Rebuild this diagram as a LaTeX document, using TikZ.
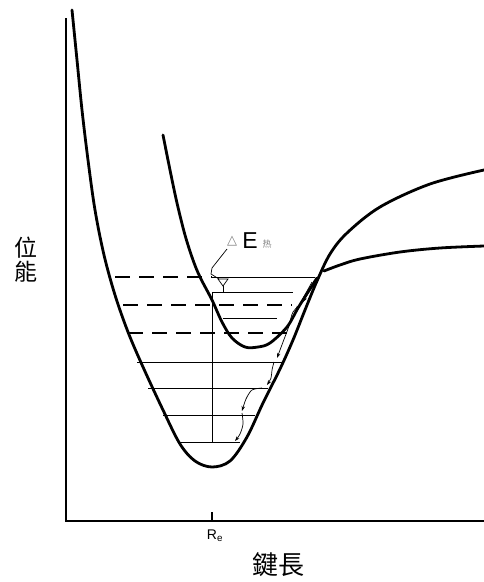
\documentclass[tikz,border=0pt]{standalone}
\usepackage{fontspec}
\newfontfamily\cjk{Noto Sans CJK TC}
\newfontfamily\lsans{Liberation Sans}
\newfontfamily\dejavu{DejaVu Sans}
\usetikzlibrary{arrows.meta}
\begin{document}
\begin{tikzpicture}[x=1pt,y=-1pt,
  curve/.style={line width=2.8pt,line cap=round,line join=round},
  axis/.style={line width=1.3pt},
  level/.style={line width=1pt},
  dlevel/.style={line width=1.1pt,dash pattern=on 15pt off 9pt},
  hop/.style={line width=0.7pt,-{Stealth[length=5pt,width=3.5pt]}},
  lbl/.style={inner sep=0pt}]
\useasboundingbox (0,0) rectangle (484,582);
% axes
\coordinate (O) at (66,521);
\coordinate (Ytop) at (66,18);
\coordinate (Xend) at (484,521);
\coordinate (tk) at (212,521);
\coordinate (tktop) at (212,512);
\draw[axis] (Ytop) -- (O) -- (Xend);
\draw[axis] (tk) -- (tktop);
\node[lbl] (re) at (215,536) {\lsans\fontsize{14}{14}\selectfont R\textsubscript{e}};
\node[lbl] (xl) at (278,565) {\cjk\fontsize{26}{26}\selectfont 鍵長};
\node[lbl,align=center,font=\cjk\fontsize{23}{24}\selectfont] (yl) at (26,260) {位\\能};
% ground state curve
\draw[curve] plot[smooth,tension=0.55] coordinates {(72,10) (77,60) (82,110) (88,160) (95,210) (104,255) (115,295) (128,332) (143,367) (163,410) (180,444) (195,461) (212,467) (230,461) (247,437) (263,403) (280,369) (293,340) (305,310) (317,281) (330,254) (347,233) (380,207) (430,184) (484,170)};
% excited curve
\draw[curve] plot[smooth,tension=0.55] coordinates {(163,135) (170,170) (177,203) (185,235) (193,260) (200,277) (212,300) (222,322) (232,338) (245,347) (258,347) (270,343) (287,327) (298,308) (308,292) (317,278)};
\draw[curve] plot[smooth,tension=0.55] coordinates {(324,271) (340,265) (360,259) (400,252) (440,248) (484,246)};
% levels
\draw[dlevel] (115,277) -- (212,277);
\draw[level] (212,277) -- (315,277);
\draw[level] (212,292) -- (293,292);
\draw[dlevel] (123,305) -- (292,305);
\draw[level] (223,318) -- (277,318);
\draw[dlevel] (128,333) -- (292,333);
\draw[level] (137,362) -- (282,362);
\draw[level] (148,388) -- (268,388);
\draw[level] (163,415) -- (255,415);
\draw[level] (180,442) -- (240,442);
\draw[level] (212,292) -- (212,442);
% relaxation hops
\draw[hop] plot[smooth] coordinates {(316,282) (309,292) (303,302)};
\draw[hop] plot[smooth] coordinates {(303,302) (293,312) (289,326) (283,342) (277,358)};
\draw[hop] plot[smooth] coordinates {(274,362) (272,370) (271,378) (267,385)};
\draw[hop] plot[smooth] coordinates {(262,388) (252,390) (246,399) (242,411)};
\draw[hop] plot[smooth] coordinates {(242,413) (243,424) (240,434) (235,441)};
\draw[hop] (312,282) -- (296,311);
% Delta E label
\node[lbl,gray] (dl) at (232,241) {\dejavu\fontsize{13}{13}\selectfont △};
\node[lbl] (E) at (250,241) {\lsans\fontsize{23}{23}\selectfont E};
\node[lbl,gray] (sub) at (267,244) {\cjk\fontsize{9}{9}\selectfont 热};
\coordinate (k1) at (212,268);
\coordinate (k2) at (211,274);
\coordinate (k3) at (219,279);
\draw[line width=0.7pt] (227,249) -- (k1) -- (k2) -- (k3);
\draw[line width=0.7pt] (218,279) -- (228,279) -- (223,286) -- cycle;
\draw[line width=0.7pt] (223,286) -- (223,292);
\end{tikzpicture}
\end{document}
